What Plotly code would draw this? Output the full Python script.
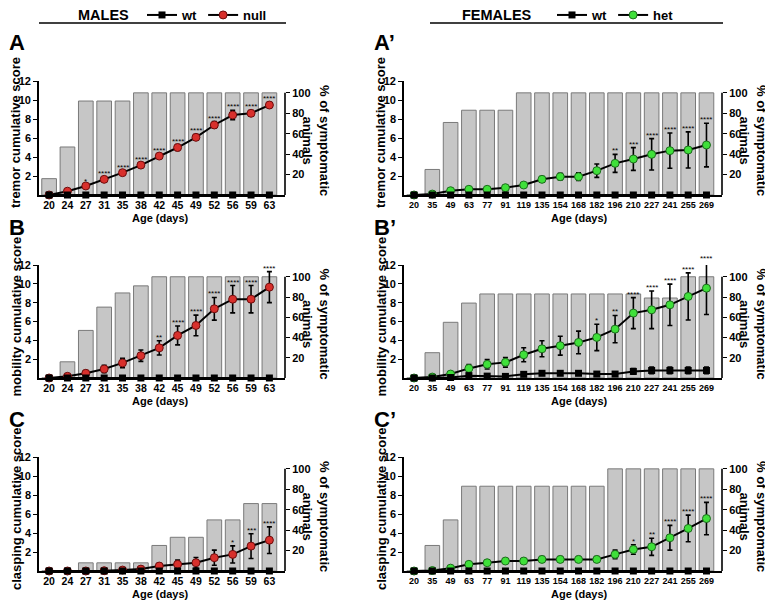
import plotly.graph_objects as go

male_ages = ['20', '24', '27', '31', '35', '38', '42', '45', '49', '52', '56', '59', '63']
female_ages = ['20', '35', '49', '63', '77', '91', '119', '135', '154', '168', '182',
               '196', '210', '227', '241', '255', '269']

# ---- males (wt vs null) ----
tremor_null = [0, 0.4, 0.95, 1.65, 2.35, 3.15, 4.1, 5.0, 6.07, 7.37, 8.42, 8.6, 9.47]
tremor_null_err = [0, 0.1, 0.15, 0.2, 0.2, 0.25, 0.25, 0.3, 0.3, 0.35, 0.5, 0.3, 0.3]
tremor_m_pct = [16, 47, 92, 92, 92, 100, 100, 100, 100, 100, 100, 100, 100]
tremor_m_stars = ['', '', '*', '****', '****', '****', '****', '****', '****', '****', '****', '****', '****']

mobility_null = [0, 0.18, 0.5, 0.95, 1.6, 2.37, 3.2, 4.52, 5.58, 7.35, 8.37, 8.37, 9.65]
mobility_null_err = [0, 0.1, 0.3, 0.4, 0.5, 0.6, 0.75, 1.0, 1.1, 1.2, 1.45, 1.45, 1.65]
mobility_m_pct = [0, 16, 47, 70, 84, 91, 100, 100, 100, 100, 100, 100, 100]
mobility_m_stars = ['', '', '', '', '', '', '**', '****', '****', '****', '****', '****', '****']

clasping_null = [0, 0, 0, 0.03, 0.1, 0.2, 0.52, 0.7, 0.87, 1.4, 1.75, 2.62, 3.25]
clasping_null_err = [0, 0, 0, 0.05, 0.1, 0.1, 0.3, 0.45, 0.55, 0.8, 0.9, 1.3, 1.4]
clasping_m_pct = [0, 0, 8, 8, 8, 8, 25, 33, 33, 50, 50, 66, 66]
clasping_m_stars = ['', '', '', '', '', '', '', '', '', '', '*', '***', '****']

male_wt = [0] * 13
male_wt_err = [0] * 13

# ---- females (wt vs het) ----
tremor_het = [0, 0.1, 0.45, 0.6, 0.6, 0.77, 1.05, 1.65, 1.93, 1.93, 2.56, 3.33, 3.79, 4.28, 4.67, 4.74, 5.26]
tremor_het_err = [0, 0.05, 0.1, 0.15, 0.15, 0.15, 0.2, 0.3, 0.35, 0.4, 0.7, 0.95, 1.2, 1.65, 1.85, 1.9, 2.3]
tremor_f_pct = [0, 25, 71, 83, 83, 83, 100, 100, 100, 100, 100, 100, 100, 100, 100, 100, 100]
tremor_f_stars = ['', '', '', '', '', '', '', '', '', '', '', '**', '***', '****', '****', '****', '****']
tremor_wt_f = [0] * 17
tremor_wt_f_err = [0] * 17

mobility_het = [0, 0.1, 0.42, 1.02, 1.45, 1.66, 2.47, 3.1, 3.43, 3.78, 4.31, 5.19, 6.89, 7.24, 7.77, 8.66, 9.54]
mobility_het_err = [0, 0.05, 0.15, 0.4, 0.5, 0.5, 0.75, 0.85, 1.0, 1.2, 1.4, 1.45, 1.65, 2.0, 2.2, 2.5, 2.8]
mobility_f_pct = [0, 25, 55, 74, 83, 83, 83, 83, 83, 83, 83, 83, 83, 79, 79, 100, 100]
mobility_f_stars = ['', '', '', '', '', '', '', '', '', '', '*', '**', '****', '****', '****', '****', '****']
mobility_wt_f = [0, 0, 0.05, 0.25, 0.2, 0.17, 0.39, 0.5, 0.5, 0.5, 0.42, 0.42, 0.7, 0.8, 0.8, 0.8, 0.8]
mobility_wt_f_err = [0, 0, 0.05, 0.2, 0.15, 0.15, 0.2, 0.2, 0.2, 0.2, 0.2, 0.2, 0.3, 0.35, 0.35, 0.35, 0.35]

clasping_het = [0, 0.05, 0.3, 0.7, 0.87, 1.05, 1.05, 1.22, 1.22, 1.22, 1.22, 1.75, 2.27, 2.55, 3.5, 4.48, 5.52]
clasping_het_err = [0, 0.03, 0.1, 0.2, 0.2, 0.25, 0.25, 0.3, 0.3, 0.3, 0.3, 0.45, 0.5, 0.9, 1.3, 1.4, 1.7]
clasping_f_pct = [0, 25, 50, 83, 83, 83, 83, 83, 83, 83, 83, 100, 100, 100, 100, 100, 100]
clasping_f_stars = ['', '', '', '', '', '', '', '', '', '', '', '', '*', '**', '****', '****', '****']
clasping_wt_f = [0] * 17
clasping_wt_f_err = [0] * 17

W, H = 773, 602
OFF = 8  # page body margin: the plot div sits 8px in from the window corner
FONT = 'Arial, Liberation Sans, sans-serif'
RED = '#d8302c'
GREEN = '#3fe03a'
SCORE_MAX = 12

fig = go.Figure()


def ax(prefix, n):
    return prefix if n == 1 else f'{prefix}{n}'


def px_x(p):
    return (p - OFF) / W


def px_y(p):
    return 1 - (p - OFF) / H


def label(text, x, y, size, angle=0, xanchor='center'):
    fig.add_annotation(text=text, xref='paper', yref='paper', x=px_x(x), y=px_y(y),
                       xanchor=xanchor, yanchor='middle', textangle=angle,
                       showarrow=False, font=dict(family=FONT, size=size, color='black'))


def add_panel(n, ages, mut, mut_err, wt, wt_err, pct, stars, mut_color, mut_edge,
              mut_name, legend, show_leg, xdom, ytop, ybot, ytitle, letter, letter_x):
    xa = ax('x', n)
    yp = ax('y', 2 * n - 1)   # percent axis (base, right)
    ys = ax('y', 2 * n)       # score axis (overlay, left)

    fig.add_trace(go.Bar(x=ages, y=pct, xaxis=xa, yaxis=yp, width=0.8,
                         marker=dict(color='#c6c6c6', line=dict(color='#7a7a7a', width=1)),
                         showlegend=False))
    fig.add_trace(go.Scatter(x=ages, y=mut, xaxis=xa, yaxis=ys, mode='lines+markers',
                             name=mut_name, legend=legend, showlegend=show_leg, legendrank=2,
                             line=dict(color='black', width=2),
                             marker=dict(symbol='circle', size=8, color=mut_color,
                                         line=dict(color=mut_edge, width=1)),
                             error_y=dict(type='data', array=mut_err, color='black',
                                          thickness=1.6, width=2.5),
                             cliponaxis=False))
    fig.add_trace(go.Scatter(x=ages, y=wt, xaxis=xa, yaxis=ys, mode='lines+markers',
                             name='wt', legend=legend, showlegend=show_leg, legendrank=1,
                             line=dict(color='black', width=2),
                             marker=dict(symbol='square', size=7, color='black'),
                             error_y=dict(type='data', array=wt_err, color='black',
                                          thickness=1.6, width=2.5),
                             cliponaxis=False))
    # significance stars just above each error bar (category axis -> index positions);
    # annotations beyond the axis range are hidden, so clamp and push up with yshift
    unit_px = (ybot - ytop) / SCORE_MAX
    for i, (m, e, s) in enumerate(zip(mut, mut_err, stars)):
        if s:
            top = m + e
            over = max(0, top - SCORE_MAX)
            fig.add_annotation(x=i, y=min(top, SCORE_MAX), xref=xa, yref=ys, text=s,
                               showarrow=False, xanchor='center', yanchor='bottom',
                               yshift=over * unit_px - 3,
                               font=dict(family=FONT, size=8, color='black'))

    nc = len(ages)
    dom_y = [px_y(ybot), px_y(ytop)]
    tick_font = dict(family=FONT, size=11, color='black', weight='bold')
    xtick_font = dict(family=FONT, size=9 if nc > 13 else 10.5, color='black', weight='bold')
    fig.update_layout({
        ax('xaxis', n): dict(domain=[px_x(xdom[0]), px_x(xdom[1])], anchor=yp,
                             type='category', range=[-0.55, nc - 0.15],
                             showline=True, linecolor='black', linewidth=1.6,
                             ticks='', showgrid=False, tickfont=xtick_font,
                             tickangle=0, automargin=False),
        ax('yaxis', 2 * n - 1): dict(domain=dom_y, anchor=xa, side='right',
                                     range=[0, 111.6], tickvals=[20, 40, 60, 80, 100],
                                     ticks='outside', ticklen=4, tickwidth=1.4,
                                     tickcolor='black', showline=False, showgrid=False,
                                     zeroline=False, tickfont=tick_font, automargin=False),
        ax('yaxis', 2 * n): dict(overlaying=yp, anchor=xa, side='left', range=[0, SCORE_MAX],
                                 tickvals=[2, 4, 6, 8, 10, 12], ticks='outside',
                                 ticklen=4, tickwidth=1.4, tickcolor='black',
                                 showline=True, linecolor='black', linewidth=1.6,
                                 showgrid=False, zeroline=False, tickfont=tick_font,
                                 automargin=False),
    })
    # right axis line only up to 100 %
    fig.add_shape(type='line', xref=f'{xa} domain', x0=1, x1=1, yref=yp, y0=0, y1=100,
                  line=dict(color='black', width=1.6))

    mid = (ytop + ybot) / 2
    label(f'<b>{ytitle}</b>', xdom[0] - 23, mid - 5, 13, angle=-90)
    label('<b>% of symptomatic<br>animals</b>', xdom[1] + 31, mid + 2, 13, angle=90)
    xmid = xdom[0] + 0.5 * (xdom[1] - xdom[0]) + (16 if nc > 13 else -2)
    label('<b>Age (days)</b>', xmid, ybot + 23, 11)
    label(f'<b>{letter}</b>', letter_x, ytop - 38, 22, xanchor='left')


LX = (39, 285)
RX = (404, 722)
ROWS = [(81, 195), (265, 378), (457, 571)]

add_panel(1, male_ages, tremor_null, tremor_null_err, male_wt, male_wt_err, tremor_m_pct,
          tremor_m_stars, RED, '#6e0d0d', 'null', 'legend', True, LX, *ROWS[0],
          'tremor cumulative score', 'A', 7)
add_panel(2, female_ages, tremor_het, tremor_het_err, tremor_wt_f, tremor_wt_f_err, tremor_f_pct,
          tremor_f_stars, GREEN, '#1d6b1d', 'het', 'legend2', True, RX, *ROWS[0],
          'tremor cumulative score', 'A’', 372)
add_panel(3, male_ages, mobility_null, mobility_null_err, male_wt, male_wt_err, mobility_m_pct,
          mobility_m_stars, RED, '#6e0d0d', 'null', 'legend', False, LX, *ROWS[1],
          'mobility cumulative score', 'B', 7)
add_panel(4, female_ages, mobility_het, mobility_het_err, mobility_wt_f, mobility_wt_f_err,
          mobility_f_pct, mobility_f_stars, GREEN, '#1d6b1d', 'het', 'legend2', False, RX,
          *ROWS[1], 'mobility cumulative score', 'B’', 372)
add_panel(5, male_ages, clasping_null, clasping_null_err, male_wt, male_wt_err, clasping_m_pct,
          clasping_m_stars, RED, '#6e0d0d', 'null', 'legend', False, LX, *ROWS[2],
          'clasping cumulative score', 'C', 7)
add_panel(6, female_ages, clasping_het, clasping_het_err, clasping_wt_f, clasping_wt_f_err,
          clasping_f_pct, clasping_f_stars, GREEN, '#1d6b1d', 'het', 'legend2', False, RX,
          *ROWS[2], 'clasping cumulative score', 'C’', 372)

# headers
label('<b>MALES</b>', 103, 15, 14.5)
label('<b>FEMALES</b>', 497, 15, 14.5)
fig.add_shape(type='line', xref='paper', yref='paper', x0=px_x(39), x1=px_x(286),
              y0=px_y(23), y1=px_y(23), line=dict(color='black', width=1.5))
fig.add_shape(type='line', xref='paper', yref='paper', x0=px_x(430), x1=px_x(723),
              y0=px_y(23), y1=px_y(23), line=dict(color='black', width=1.5))

leg_font = dict(family=FONT, size=13, color='black', weight='bold')
fig.update_layout(
    width=W, height=H,
    margin=dict(l=0, r=0, t=0, b=0, autoexpand=False),
    plot_bgcolor='white', paper_bgcolor='white',
    barmode='overlay',
    legend=dict(orientation='h', x=px_x(142), y=px_y(15), xanchor='left', yanchor='middle',
                font=leg_font, bgcolor='rgba(0,0,0,0)', itemwidth=30, tracegroupgap=0,
                borderwidth=0),
    legend2=dict(orientation='h', x=px_x(552), y=px_y(15), xanchor='left', yanchor='middle',
                 font=leg_font, bgcolor='rgba(0,0,0,0)', itemwidth=30, tracegroupgap=0,
                 borderwidth=0),
)

fig.write_html("out.html")
